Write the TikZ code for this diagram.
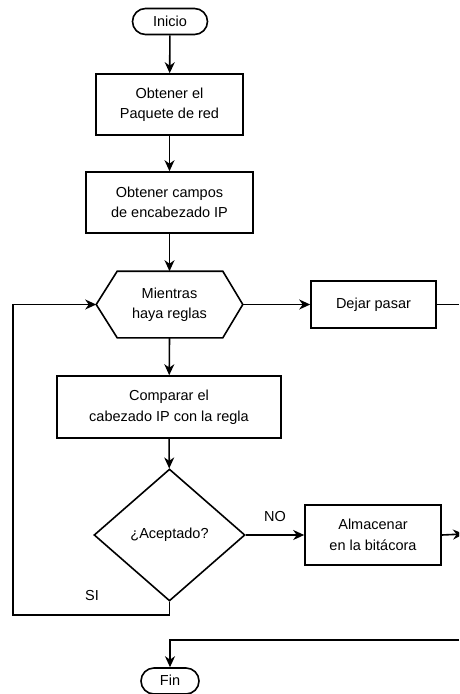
\documentclass[tikz,border=0pt]{standalone}
\usepackage{fontspec}
\setmainfont{Liberation Sans}
\usetikzlibrary{shapes.geometric,arrows.meta}
\begin{document}
\begin{tikzpicture}[x=1pt,y=-1pt,
  font=\fontsize{14.5}{20.5}\selectfont,
  line width=1.6pt,
  flow/.style={-{Stealth[length=11pt,width=10pt,inset=3.5pt]}},
  terminal/.style={draw,rounded corners=13pt,minimum height=26pt,inner sep=0pt,align=center},
  procbox/.style={draw,inner sep=0pt,align=center},
  decision/.style={draw,diamond,minimum width=151pt,minimum height=132pt,inner sep=0pt},
  lbl/.style={inner sep=0pt}]
\clip (0,0) rectangle (459,694);
\useasboundingbox (0,0) rectangle (459,694);

% terminals and steps
\node[terminal,minimum width=75pt] (inicio) at (170,21.5) {\raisebox{1.5pt}{Inicio}};
\node[procbox,minimum width=147pt,minimum height=61pt] (paquete) at (169.5,104.5) {Obtener el\\Paquete de red};
\node[procbox,minimum width=167pt,minimum height=61pt] (campos) at (169.5,202.5) {Obtener campos\\de encabezado IP};

% loop header (hexagon drawn around a plain node)
\node[minimum width=145pt,minimum height=65pt,inner sep=0pt,align=center] (mientras) at (169.5,304.5) {Mientras\\haya reglas};
\draw (mientras.west) -- ([xshift=21pt]mientras.north west) -- ([xshift=-20pt]mientras.north east)
  -- (mientras.east) -- ([xshift=-20pt]mientras.south east) -- ([xshift=21pt]mientras.south west) -- cycle;

\node[procbox,minimum width=125pt,minimum height=47pt] (dejar) at (373.5,304.5) {Dejar pasar};
\node[procbox,minimum width=224pt,minimum height=62pt] (comparar) at (169,407) {Comparar el\\cabezado IP con la regla};
\node[decision] (aceptado) at (169.5,535) {¿Aceptado?};
\node[procbox,minimum width=136pt,minimum height=60pt] (almacenar) at (373,535) {Almacenar\\en la bitácora};
\node[terminal,minimum width=58pt] (fin) at (170,681) {\raisebox{2pt}{Fin}};

% free ends at the right border
\coordinate (outA) at (459,304.5);
\coordinate (outB) at (464,534);
\coordinate (inC) at (459,640);
\coordinate (loopB) at (13,615);
\coordinate (loopT) at (13,304.5);
\coordinate (joinC) at (170,640);

% connectors
\draw[flow] (inicio) -- (paquete);
\draw[flow] (paquete) -- (campos);
\draw[flow] (campos) -- (mientras);
\draw[flow] (mientras.east) -- (dejar);
\draw (dejar.east) -- (outA);
\draw[flow] (mientras.south) -- (comparar);
\draw[flow] (comparar) -- (aceptado);
\draw[flow] (aceptado.east) -- node[lbl,above=13pt] (no) {NO} (almacenar.west);
\draw[flow] (almacenar.east) -- (outB);
\draw[flow] (aceptado.south) |- (loopB) -- (loopT) -- (mientras.west);
\node[lbl] (si) at (92,596) {SI};
\draw[flow] (inC) -- (joinC) -- (fin.north);
\end{tikzpicture}
\end{document}
